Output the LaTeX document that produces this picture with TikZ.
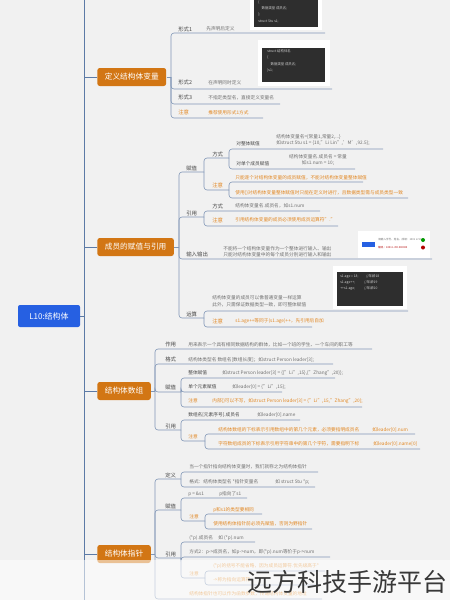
\documentclass[tikz,border=0pt]{standalone}
\usepackage{fontspec}
\setmainfont{Noto Sans CJK SC}
\usepackage{tikz}
\usetikzlibrary{positioning,calc}
\tikzset{
  every picture/.append style={line width=0.6pt},
}
\tikzset{
  lab/.style={anchor=west, inner sep=0pt, text=labgray, font=\fontsize{5.4}{6.5}\selectfont},
  sublab/.style={anchor=west, inner sep=0pt, text=labgray, font=\fontsize{4.7}{6.5}\selectfont},
  desc/.style={anchor=west, inner sep=0pt, text=descgray, align=left, font=\fontsize{4.7}{6.5}\selectfont},
  note/.style={desc, text=noteorange},
  notelab/.style={lab, text=noteorange},
  conn/.style={draw=linkblue, line width=0.6pt, rounded corners=3pt},
  trunk/.style={draw=trunkblue, line width=0.9pt}
}

\begin{document}
\begin{tikzpicture}[
    x=1pt, y=-1pt,
    rootbox/.style={
        rectangle,
        fill=rootblue,
        rounded corners=2pt,
        minimum width=62pt,
        minimum height=22pt,
        inner sep=0pt,
        text=white,
        font=\fontsize{8}{9}\selectfont
    },
    mainbox/.style={
        rectangle,
        fill=mainorange,
        rounded corners=2.5pt,
        minimum height=18pt,
        inner xsep=7.5pt,
        inner ysep=0pt,
        text=white,
        font=\fontsize{7.7}{9}\selectfont
    },
    imgframe/.style={fill=white, inner sep=0pt},
    codebox/.style={fill=codebg, inner sep=0pt},
    code/.style={anchor=north west, inner sep=0pt, text=codetext, align=left,
        font=\fontsize{3.4}{6.2}\selectfont}
]
% Color definitions
\definecolor{bggray}{RGB}{241,241,241}
\definecolor{rootblue}{RGB}{38,96,226}
\definecolor{mainorange}{RGB}{210,118,20}
\definecolor{linkblue}{RGB}{128,150,182}
\definecolor{trunkblue}{RGB}{92,122,166}
\definecolor{labgray}{RGB}{72,72,72}
\definecolor{descgray}{RGB}{112,112,112}
\definecolor{noteorange}{RGB}{226,136,36}
\definecolor{codebg}{RGB}{46,46,46}
\definecolor{codetext}{RGB}{205,205,205}

\fill[bggray] (0,0) rectangle (450,600);
\useasboundingbox (0,0) rectangle (450,600);

% Root and trunk
\coordinate (ttop) at (84,0);
\coordinate (tbot) at (84,600);
\draw[trunk] (ttop) -- (tbot);
\node[rootbox] (root) at (49,316) {L10:结构体};
\draw[trunk] (root.east) -- (root.east -| ttop);

% Main branches
\node[mainbox, anchor=west] (b1) at (97,77) {定义结构体变量};
\node[mainbox, anchor=west] (b2) at (97,247) {成员的赋值与引用};
\node[mainbox, anchor=west] (b3) at (97,391) {结构体数组};
\node[mainbox, anchor=west] (b4) at (97,554) {结构体指针};
\foreach \b in {b1,b2,b3,b4}
  \draw[trunk] (\b.west) -- (\b.west -| ttop);

% ---- branch 1: 定义结构体变量
\coordinate (j1) at (171,77);
\draw[conn] (b1.east) -- (j1);
\node[imgframe, minimum width=72pt, minimum height=33pt] (f1img) at (286,13.5) {};
\node[codebox, minimum width=64pt, minimum height=29pt, anchor=south west] (f1code) at (254,27) {};
\node[code] (f1txt) at (258,0.5) {\{\\\quad 数据类型 成员名;\\\};\\struct Stu s1;};
\node[lab] (f1) at (178,29) {形式1};
\node[desc] (f1d) at (206,29) {先声明后定义};
\coordinate (f1u) at (325,33);
\node[imgframe, minimum width=72pt, minimum height=46pt] (f2img) at (294,63) {};
\node[codebox, minimum width=63pt, minimum height=34pt, anchor=north west] (f2code) at (262,48) {};
\node[code] (f2txt) at (267,49.5) {struct 结构体名\\\{\\\quad 数据类型 成员名;\\\}s1;};
\node[lab] (f2) at (178,82) {形式2};
\node[desc] (f2d) at (208,83) {在声明同时定义};
\coordinate (f2u) at (332,89);
\node[lab] (f3) at (178,97) {形式3};
\node[desc] (f3d) at (208,98) {不指定类型名，直接定义变量名};
\coordinate (f3u) at (280,104);
\node[notelab] (f4) at (178,112) {注意};
\node[note] (f4d) at (208,113) {推荐使用形式1方式};
\coordinate (f4u) at (263,118);
\foreach \u in {f1u,f2u,f3u,f4u}
  \draw[conn] (j1) |- (\u);

% ---- branch 2: 成员的赋值与引用
\coordinate (j2) at (179,247);
\draw[conn] (b2.east) -- (j2);
% 赋值
\node[lab] (a1) at (186,168) {赋值};
\coordinate (a1u) at (204,172);
\node[lab] (a11) at (212,154) {方式};
\coordinate (a11u) at (229,158);
\node[sublab] (a111) at (236,144) {对整体赋值};
\node[desc] (a111d) at (276,140) {结构体变量名=\{常量1,常量2,...\}\\如struct Stu s1 = \{10,"Li Lin",'M',92.5\};};
\coordinate (a111u) at (383,149);
\node[sublab] (a112) at (236,164) {对单个成员赋值};
\node[desc, anchor=center, align=center] (a112d) at (318,160) {结构体变量名.成员名 = 常量\\如s1.num = 10;};
\coordinate (a112u) at (355,169);
\node[notelab] (a12) at (212,185) {注意};
\coordinate (a12u) at (229,190);
\node[note] (a121) at (235,178) {只能逐个对结构体变量的成员赋值，不能对结构体变量整体赋值};
\coordinate (a121u) at (363,182);
\node[note] (a122) at (235,193) {使用\{\}对结构体变量整体赋值时只能在定义时进行，且数据类型需与成员类型一致};
\coordinate (a122u) at (408,198);
% 引用
\node[lab] (r1) at (186,213) {引用};
\coordinate (r1u) at (204,217);
\node[lab] (r11) at (212,206) {方式};
\node[desc] (r11d) at (235,206) {结构体变量名.成员名，如s1.num};
\coordinate (r11u) at (320,211);
\node[notelab] (r12) at (212,220) {注意};
\node[note] (r12d) at (235,220) {引用结构体变量的成员必须使用成员运算符"."};
\coordinate (r12u) at (338,226);
% 输入输出
\node[imgframe, minimum width=72pt, minimum height=27pt] (ioimg) at (394,244.5) {};
\node[fill=rootblue, minimum width=13pt, minimum height=5pt, inner sep=0pt] (iobtn) at (368.5,244.5) {};
\node[desc, font=\fontsize{2.6}{3}\selectfont] (iot1) at (378,240) {请输入学号、姓名、成绩：1001 Li 90};
\node[desc, text=red!70!black, font=\fontsize{2.6}{3}\selectfont] (iot2) at (378,247.5) {输出：1001 Li 90.000000};
\node[circle, fill=green!60!black, inner sep=0pt, minimum size=4pt] (iook) at (423,240) {};
\node[circle, fill=red!70!black, inner sep=0pt, minimum size=4pt] (ioerr) at (423,247.5) {};
\node[lab] (io) at (186,254) {输入输出};
\node[desc] (iod) at (223,251.5) {不能将一个结构体变量作为一个整体进行输入、输出\\只能对结构体变量中的每个成员分别进行输入和输出};
\coordinate (iou) at (432,259);
% 运算
\node[imgframe, minimum width=74pt, minimum height=43pt] (opimg) at (370,287.5) {};
\node[codebox, minimum width=66pt, minimum height=34pt, anchor=north west] (opcode) at (337,272) {};
\node[code] (optxt) at (340,274) {s1.age = 18; \quad\quad //年龄18\\s1.age++; \quad\quad\ \ //年龄19\\++s1.age; \quad\quad\ \ //年龄20};
\node[lab] (op) at (186,314) {运算};
\coordinate (opu) at (204,318);
\node[desc] (op1) at (212,301.5) {结构体变量的成员可以像普通变量一样运算\\此外，只需保证数据类型一致，即可整体赋值};
\coordinate (op1u) at (408,311);
\node[notelab] (op2) at (212,321) {注意};
\node[note] (op2d) at (235,321) {s1.age++等同于(s1.age)++，先引用后自加};
\coordinate (op2u) at (312,327);
\foreach \u in {a1u,r1u,iou,opu}
  \draw[conn] (j2) |- (\u);
\foreach \u in {a11u,a12u}
  \draw[conn] (a1u) |- (\u);
\foreach \u in {a111u,a112u}
  \draw[conn] (a11u) |- (\u);
\foreach \u in {a121u,a122u}
  \draw[conn] (a12u) |- (\u);
\foreach \u in {r11u,r12u}
  \draw[conn] (r1u) |- (\u);
\foreach \u in {op1u,op2u}
  \draw[conn] (opu) |- (\u);

% ---- branch 3: 结构体数组
\coordinate (j3) at (155,391);
\draw[conn] (b3.east) -- (j3);
\node[lab] (s1) at (165,344) {作用};
\node[desc] (s1d) at (188,345) {用来表示一个具有相同数据结构的群体，比如一个班的学生、一个车间的职工等};
\coordinate (s1u) at (372,349);
\node[lab] (s2) at (165,359) {格式};
\node[desc] (s2d) at (188,360) {结构体类型名 数组名[数组长度]；如struct Person leader[3];};
\coordinate (s2u) at (333,364);
\node[lab] (s3) at (165,387) {赋值};
\coordinate (s3u) at (181,392);
\node[sublab] (s31) at (188,373) {整体赋值};
\node[desc] (s31d) at (222,373) {如struct Person leader[3] = \{\{"Li",15\},\{"Zhang",20\}\};};
\coordinate (s31u) at (335,378);
\node[sublab] (s32) at (188,387) {单个元素赋值};
\node[desc] (s32d) at (232,387) {如leader[0] = \{"Li",15\};};
\coordinate (s32u) at (282,392);
\node[notelab, font=\fontsize{4.7}{6.5}\selectfont] (s33) at (188,401) {注意};
\node[note] (s33d) at (212,401) {内部\{\}可以不写，如struct Person leader[3] = \{"Li",15,"Zhang",20\};};
\coordinate (s33u) at (362,407);
\node[lab] (s4) at (165,426) {引用};
\coordinate (s4u) at (181,430);
\node[sublab] (s41) at (188,415) {数组名[元素序号].成员名};
\node[desc] (s41d) at (257,415) {如leader[0].name};
\coordinate (s41u) at (300,420);
\node[notelab, font=\fontsize{4.7}{6.5}\selectfont] (s42) at (188,437) {注意};
\coordinate (s42u) at (205,441);
\node[note] (s421) at (218,430) {结构体数组的下标表示引用数组中的第几个元素，必须要指明成员名};
\node[note] (s421d) at (372,430) {如leader[0].num};
\coordinate (s421u) at (415,434);
\node[note] (s422) at (218,444) {字符数组成员的下标表示引用字符串中的第几个字符，需要指明下标};
\node[note] (s422d) at (373,444) {如leader[0].name[0]};
\coordinate (s422u) at (420,449);
\foreach \u in {s1u,s2u,s3u,s4u}
  \draw[conn] (j3) |- (\u);
\foreach \u in {s31u,s32u,s33u}
  \draw[conn] (s3u) |- (\u);
\foreach \u in {s41u,s42u}
  \draw[conn] (s4u) |- (\u);
\foreach \u in {s421u,s422u}
  \draw[conn] (s42u) |- (\u);

% ---- branch 4: 结构体指针
\coordinate (j4) at (155,554);
\draw[conn] (b4.east) -- (j4);
\node[lab] (p1) at (165,475) {定义};
\coordinate (p1u) at (181,479);
\node[desc] (p11) at (189,467) {当一个指针指向结构体变量时，我们就称之为结构体指针};
\coordinate (p11u) at (318,472);
\node[desc] (p12) at (189,482) {格式：结构体类型名 *指针变量名};
\node[desc] (p12d) at (275,482) {如 struct Stu *p;};
\coordinate (p12u) at (315,487);
\node[lab] (p2) at (165,506) {赋值};
\coordinate (p2u) at (181,510);
\node[desc] (p21) at (188,494) {p = \&s1};
\node[desc] (p21d) at (219,494) {p指向了s1};
\coordinate (p21u) at (247,498);
\node[notelab, font=\fontsize{4.7}{6.5}\selectfont] (p22) at (189,517) {注意};
\coordinate (p22u) at (205,521);
\node[note] (p221) at (213,510) {p和s1的类型要相同};
\coordinate (p221u) at (262,514);
\node[note] (p222) at (213,524) {使用结构体指针前必须先赋值，否则为野指针};
\coordinate (p222u) at (312,529);
\node[lab] (p3) at (165,554) {引用};
\coordinate (p3u) at (181,558);
\node[desc] (p31) at (189,538) {(*p).成员名};
\node[desc] (p31d) at (218,538) {如 (*p).num};
\coordinate (p31u) at (255,542);
\node[desc] (p32) at (189,552) {方式2：p->成员名，如p->num，即(*p).num等价于p->num};
\coordinate (p32u) at (330,557);
\node[notelab, font=\fontsize{4.7}{6.5}\selectfont] (p33) at (189,574) {注意};
\coordinate (p33u) at (205,578);
\node[note] (p331) at (213,566) {(*p)的括号不能省略，因为成员运算符.优先级高于*};
\coordinate (p331u) at (325,571);
\node[note] (p332) at (213,580) {->称为指向运算符};
\coordinate (p332u) at (320,585);
\node[note] (p34) at (189,594) {结构体指针也可以作为函数参数，传递结构体变量的地址};
\coordinate (p34u) at (322,599);
\foreach \u in {p1u,p2u,p3u,p34u}
  \draw[conn] (j4) |- (\u);
\foreach \u in {p11u,p12u}
  \draw[conn] (p1u) |- (\u);
\foreach \u in {p21u,p22u}
  \draw[conn] (p2u) |- (\u);
\foreach \u in {p221u,p222u}
  \draw[conn] (p22u) |- (\u);
\foreach \u in {p31u,p32u,p33u}
  \draw[conn] (p3u) |- (\u);
\foreach \u in {p331u,p332u}
  \draw[conn] (p33u) |- (\u);

% Watermark band
\fill[white, opacity=0.55] (0,560) rectangle (450,600);
\node[text=black!78, inner sep=0pt, font=\fontsize{25}{26}\selectfont] (wm) at (347,582) {远方科技手游平台};

\end{tikzpicture}
\end{document}
